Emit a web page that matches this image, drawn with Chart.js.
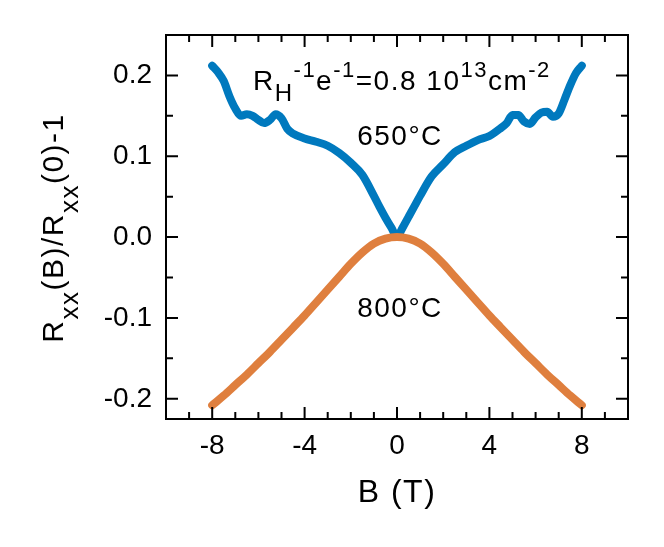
<!DOCTYPE html>
<html>
<head>
<meta charset="utf-8">
<script src="https://cdn.jsdelivr.net/npm/chart.js@4/dist/chart.umd.min.js"></script>
<style>
  html, body { margin: 0; padding: 0; background: #fff; }
  canvas { display: block; }
</style>
</head>
<body>
<canvas id="chart" width="664" height="547"></canvas>
<script>
// 650°C sample, magnetoresistance vs field
const field650 = [-8, -7.75, -7.5, -7.25, -7, -6.75, -6.5, -6.25, -6, -5.75, -5.5, -5.25, -5, -4.75, -4.5,
    -4, -3.5, -3, -2.5, -2, -1.5, -1, -0.75, -0.5, -0.25, 0, 0.25, 0.5, 0.75, 1, 1.5, 2, 2.5, 3, 3.5, 4,
    4.5, 4.75, 5, 5.25, 5.5, 5.75, 6, 6.25, 6.5, 6.75, 7, 7.25, 7.5, 7.75, 8];
const mr650 = [0.212, 0.204, 0.193, 0.174, 0.159, 0.150, 0.152, 0.150, 0.145, 0.141, 0.145, 0.152, 0.147, 0.134, 0.128,
    0.122, 0.118, 0.113, 0.104, 0.092, 0.077, 0.051, 0.037, 0.024, 0.012, 0.001, 0.012, 0.025, 0.038, 0.051, 0.075, 0.090, 0.105, 0.113, 0.120, 0.125,
    0.135, 0.141, 0.151, 0.151, 0.143, 0.140, 0.148, 0.154, 0.155, 0.149, 0.153, 0.170, 0.188, 0.203, 0.212];

// 800°C sample
const field800 = [-8, -7.5, -7, -6.5, -6, -5.5, -5, -4.5, -4, -3.5, -3, -2.5, -2, -1.5, -1, -0.5, 0,
    0.5, 1, 1.5, 2, 2.5, 3, 3.5, 4, 4.5, 5, 5.5, 6, 6.5, 7, 7.5, 8];
const mr800 = [-0.208, -0.196, -0.183, -0.170, -0.156, -0.142, -0.127, -0.112, -0.097, -0.081, -0.065, -0.049, -0.033, -0.019, -0.008, -0.002, 0,
    -0.002, -0.008, -0.019, -0.033, -0.049, -0.065, -0.081, -0.097, -0.112, -0.127, -0.142, -0.156, -0.170, -0.183, -0.196, -0.208];

const xTickValues = [-8, -4, 0, 4, 8];
const yTickValues = [-0.2, -0.1, 0, 0.1, 0.2];

const FONT = '"Liberation Sans", Arial, Helvetica, sans-serif';

function toPoints(xs, ys) {
    return xs.map((v, i) => ({ x: v, y: ys[i] }));
}

// draws a row of text pieces with their own size and baseline shift
function drawRich(ctx, parts, x, y, align) {
    let total = 0;
    parts.forEach(p => {
        ctx.font = p.size + 'px ' + FONT;
        p.w = ctx.measureText(p.t).width;
        total += p.w;
    });
    let cx = align === 'center' ? x - total / 2 : x;
    parts.forEach(p => {
        ctx.font = p.size + 'px ' + FONT;
        ctx.fillText(p.t, cx, y + (p.dy || 0));
        cx += p.w;
    });
}

const framePlugin = {
    id: 'frame',
    afterDraw(chart) {
        const { ctx, chartArea: a, scales } = chart;
        const x = scales.x, y = scales.y;
        ctx.save();
        ctx.strokeStyle = '#000';
        ctx.lineWidth = 2;
        ctx.strokeRect(a.left, a.top, a.right - a.left, a.bottom - a.top);

        // inward ticks on all four sides
        ctx.beginPath();
        for (let v = -9; v <= 9; v++) {
            const px = x.getPixelForValue(v);
            const len = v % 4 === 0 ? 12 : 7;
            ctx.moveTo(px, a.bottom); ctx.lineTo(px, a.bottom - len);
            ctx.moveTo(px, a.top); ctx.lineTo(px, a.top + len);
        }
        for (let k = -4; k <= 4; k++) {
            const py = y.getPixelForValue(k * 0.05);
            const len = k % 2 === 0 ? 12 : 7;
            ctx.moveTo(a.left, py); ctx.lineTo(a.left + len, py);
            ctx.moveTo(a.right, py); ctx.lineTo(a.right - len, py);
        }
        ctx.stroke();

        ctx.fillStyle = '#000';
        ctx.textBaseline = 'alphabetic';
        ctx.textAlign = 'left';
        if ('letterSpacing' in ctx) ctx.letterSpacing = '1.5px';

        // annotations
        drawRich(ctx, [
            { t: 'R', size: 28 },
            { t: 'H', size: 24, dy: 11 },
            { t: '-1', size: 22, dy: -13 },
            { t: 'e', size: 28 },
            { t: '-1', size: 22, dy: -13 },
            { t: '=0.8 10', size: 28 },
            { t: '13', size: 22, dy: -13 },
            { t: 'cm', size: 28 },
            { t: '-2', size: 22, dy: -13 }
        ], 253, 90, 'left');
        drawRich(ctx, [{ t: '650°C', size: 28 }], 400, 145, 'center');
        drawRich(ctx, [{ t: '800°C', size: 28 }], 400, 317, 'center');

        // axis titles
        drawRich(ctx, [{ t: 'B (T)', size: 32 }], 397, 502, 'center');
        ctx.translate(63, 228);
        ctx.rotate(-Math.PI / 2);
        drawRich(ctx, [
            { t: 'R', size: 30 },
            { t: 'xx', size: 26, dy: 15 },
            { t: '(B)/R', size: 30 },
            { t: 'xx', size: 26, dy: 15 },
            { t: '(0)-1', size: 30 }
        ], 0, 0, 'center');
        ctx.restore();
    }
};

new Chart(document.getElementById('chart'), {
    type: 'line',
    data: {
        datasets: [
            {
                label: '800°C',
                data: toPoints(field800, mr800),
                borderColor: '#DF7F3E',
                borderWidth: 8,
                borderCapStyle: 'round',
                borderJoinStyle: 'round',
                pointRadius: 0,
                cubicInterpolationMode: 'monotone',
                fill: false
            },
            {
                label: '650°C',
                data: toPoints(field650, mr650),
                borderColor: '#0079BE',
                borderWidth: 8,
                borderCapStyle: 'round',
                borderJoinStyle: 'round',
                pointRadius: 0,
                cubicInterpolationMode: 'monotone',
                fill: false
            }
        ]
    },
    options: {
        responsive: false,
        animation: false,
        devicePixelRatio: 1,
        layout: { padding: { left: 0, top: 35, right: 36, bottom: 0 } },
        plugins: { legend: { display: false }, tooltip: { enabled: false } },
        scales: {
            x: {
                type: 'linear',
                min: -10,
                max: 10,
                afterBuildTicks: s => { s.ticks = xTickValues.map(v => ({ value: v })); },
                afterFit: s => { s.height = 128; },
                grid: { display: false, drawTicks: false },
                border: { display: false },
                ticks: {
                    padding: 10,
                    color: '#000',
                    font: { family: FONT, size: 28 },
                    maxRotation: 0
                }
            },
            y: {
                type: 'linear',
                min: -0.225,
                max: 0.25,
                afterBuildTicks: s => { s.ticks = yTickValues.map(v => ({ value: v })); },
                afterFit: s => { s.width = 166; },
                grid: { display: false, drawTicks: false },
                border: { display: false },
                ticks: {
                    padding: 14,
                    color: '#000',
                    font: { family: FONT, size: 28 },
                    callback: v => v.toFixed(1)
                }
            }
        }
    },
    plugins: [framePlugin]
});
</script>
</body>
</html>
